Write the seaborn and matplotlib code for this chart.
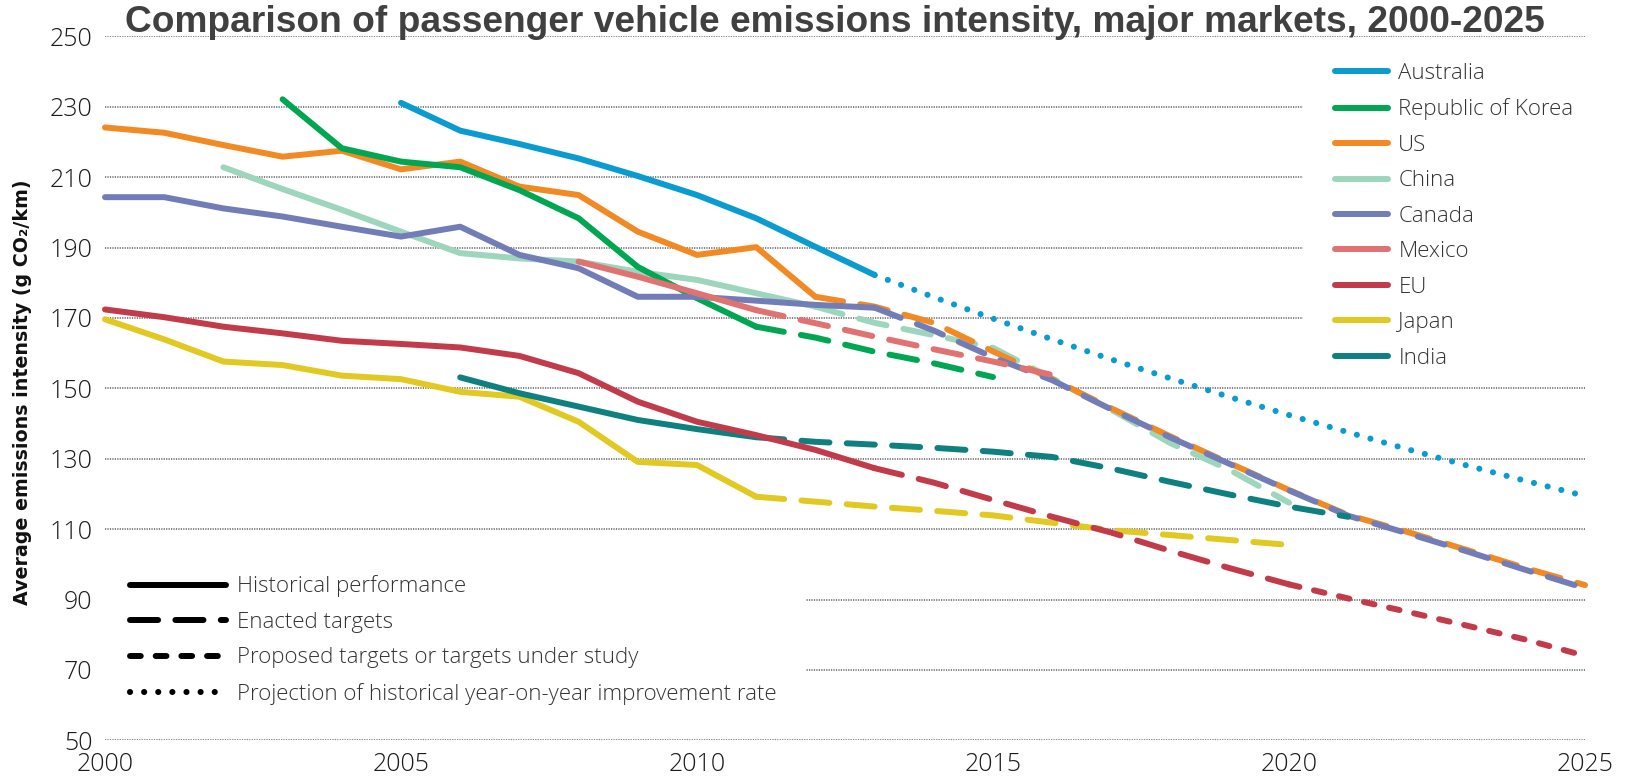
import matplotlib
matplotlib.use("Agg")
import matplotlib.pyplot as plt
from matplotlib.lines import Line2D
from matplotlib.patches import Rectangle
import seaborn as sns
import pandas as pd

# ---------------- data (g CO2/km) ----------------
MARKETS = ["Australia", "Republic of Korea", "US", "China", "Canada",
           "Mexico", "EU", "Japan", "India"]

AUS_HIST_YEARS = list(range(2005, 2014))
AUS_HIST = [231.1, 223.2, 219.4, 215.3, 210.3, 204.9, 198.3, 190.2, 182.2]
AUS_PROJ_YEARS = list(range(2013, 2026))
AUS_PROJ = [182.2, 175.9, 169.8, 163.9, 158.2, 152.8, 147.5, 142.4, 137.5,
            132.7, 128.1, 123.7, 119.4]

KOR_HIST_YEARS = list(range(2003, 2012))
KOR_HIST = [232.1, 218.2, 214.4, 212.8, 206.3, 198.3, 184.5, 175.6, 167.5]
KOR_TGT_YEARS = list(range(2011, 2016))
KOR_TGT = [167.5, 164.4, 160.4, 157.1, 153.2]

US_HIST_YEARS = list(range(2000, 2013))
US_HIST = [224.1, 222.6, 219.1, 215.8, 217.5, 212.2, 214.4, 207.3, 204.9,
           194.5, 187.9, 190.1, 176.0]
US_TGT_YEARS = list(range(2012, 2026))
US_TGT = [176.0, 173.2, 168.6, 160.5, 152.6, 144.3, 136.3, 128.7, 121.1,
          114.0, 109.2, 104.1, 98.9, 94.1]

CHN_HIST_YEARS = list(range(2002, 2013))
CHN_HIST = [212.8, 206.6, 200.7, 194.5, 188.4, 186.9, 186.0, 183.1, 180.8,
            177.0, 173.2]
CHN_TGT_YEARS = list(range(2012, 2021))
CHN_TGT = [173.2, 168.6, 165.1, 161.5, 152.8, 143.9, 134.4, 126.8, 117.5]

CAN_HIST_YEARS = list(range(2000, 2014))
CAN_HIST = [204.3, 204.3, 201.1, 198.8, 195.9, 193.1, 195.9, 187.9, 184.1,
            176.0, 176.0, 174.9, 173.7, 172.9]
CAN_TGT_YEARS = list(range(2013, 2026))
CAN_TGT = [172.9, 166.4, 158.8, 152.3, 144.0, 136.0, 128.5, 121.0, 113.8,
           108.8, 103.7, 98.4, 93.2]

MEX_HIST_YEARS = list(range(2008, 2012))
MEX_HIST = [186.0, 181.7, 177.0, 172.2]
MEX_TGT_YEARS = list(range(2011, 2017))
MEX_TGT = [172.2, 168.5, 164.7, 161.1, 157.6, 153.8]

EU_HIST_YEARS = list(range(2000, 2014))
EU_HIST = [172.4, 170.2, 167.5, 165.6, 163.5, 162.6, 161.6, 159.2, 154.3,
           146.2, 140.5, 136.7, 132.5, 127.3]
EU_TGT_YEARS = list(range(2013, 2021))
EU_TGT = [127.3, 123.2, 118.3, 113.5, 109.0, 103.8, 98.9, 94.3]
EU_PROP_YEARS = list(range(2020, 2026))
EU_PROP = [94.3, 90.3, 86.5, 82.6, 78.6, 74.0]

JPN_HIST_YEARS = list(range(2000, 2012))
JPN_HIST = [169.6, 163.9, 157.6, 156.6, 153.6, 152.6, 149.0, 147.6, 140.5,
            129.1, 128.2, 119.2]
JPN_TGT_YEARS = list(range(2011, 2021))
JPN_TGT = [119.2, 117.8, 116.4, 115.2, 113.9, 111.8, 109.7, 108.3, 106.9, 105.5]

IND_HIST_YEARS = list(range(2006, 2012))
IND_HIST = [153.1, 148.6, 144.8, 141.0, 138.4, 136.1]
IND_TGT_YEARS = list(range(2011, 2022))
IND_TGT = [136.1, 134.8, 134.0, 133.1, 132.0, 130.5, 127.2, 123.4, 119.8,
           116.4, 113.5]

STAGES = ["Historical performance", "Enacted targets",
          "Proposed targets or targets under study",
          "Projection of historical year-on-year improvement rate"]

Y_TICKS = list(range(50, 251, 20))
X_TICKS = list(range(2000, 2026, 5))

COLORS = {
    "Australia": "#0A9BD1",
    "Republic of Korea": "#00A651",
    "US": "#F28A24",
    "China": "#9DD6BD",
    "Canada": "#727DB8",
    "Mexico": "#E07272",
    "EU": "#C23B4A",
    "Japan": "#E2C922",
    "India": "#0F8080",
}

segments = [
    ("China", STAGES[0], CHN_HIST_YEARS, CHN_HIST),
    ("China", STAGES[1], CHN_TGT_YEARS, CHN_TGT),
    ("US", STAGES[0], US_HIST_YEARS, US_HIST),
    ("US", STAGES[1], US_TGT_YEARS, US_TGT),
    ("Republic of Korea", STAGES[0], KOR_HIST_YEARS, KOR_HIST),
    ("Republic of Korea", STAGES[1], KOR_TGT_YEARS, KOR_TGT),
    ("Canada", STAGES[0], CAN_HIST_YEARS, CAN_HIST),
    ("Canada", STAGES[1], CAN_TGT_YEARS, CAN_TGT),
    ("Mexico", STAGES[0], MEX_HIST_YEARS, MEX_HIST),
    ("Mexico", STAGES[1], MEX_TGT_YEARS, MEX_TGT),
    ("Australia", STAGES[0], AUS_HIST_YEARS, AUS_HIST),
    ("Australia", STAGES[3], AUS_PROJ_YEARS, AUS_PROJ),
    ("Japan", STAGES[0], JPN_HIST_YEARS, JPN_HIST),
    ("Japan", STAGES[1], JPN_TGT_YEARS, JPN_TGT),
    ("India", STAGES[0], IND_HIST_YEARS, IND_HIST),
    ("India", STAGES[1], IND_TGT_YEARS, IND_TGT),
    ("EU", STAGES[0], EU_HIST_YEARS, EU_HIST),
    ("EU", STAGES[1], EU_TGT_YEARS, EU_TGT),
    ("EU", STAGES[2], EU_PROP_YEARS, EU_PROP),
]

rows = []
for order, (m, st, ys, vs) in enumerate(segments):
    for y, v in zip(ys, vs):
        rows.append({"market": m, "stage": st, "year": y, "value": v, "seg": order})
df = pd.DataFrame(rows)

# ---------------- styles ----------------
LW = 4.3
STYLE = {
    STAGES[0]: dict(linestyle="-", solid_capstyle="round", lw=LW),
    STAGES[1]: dict(linestyle=(0, (4.7, 2.9)), dash_capstyle="round", lw=LW),
    STAGES[2]: dict(linestyle=(0, (1.8, 2.5)), dash_capstyle="round", lw=LW),
    STAGES[3]: dict(linestyle=(0, (0.01, 2.3)), dash_capstyle="round", lw=4.4),
}

sns.set_theme(style="white")
plt.rcParams["font.family"] = ["DejaVu Sans"]

fig = plt.figure(figsize=(16.3, 7.77), dpi=100)
ax = fig.add_axes([105 / 1630, 1 - 740.3 / 777, 1480 / 1630, (740.3 - 36.3) / 777])

for seg_id, sub in df.groupby("seg", sort=True):
    m = sub["market"].iloc[0]
    st = sub["stage"].iloc[0]
    sns.lineplot(data=sub, x="year", y="value", ax=ax, color=COLORS[m],
                 estimator=None, sort=False, legend=False, zorder=3 + seg_id * 0.01,
                 clip_on=False, **STYLE[st])

ax.set_xlim(2000, 2025)
ax.set_ylim(50, 250)
ax.set_xticks(X_TICKS)
ax.set_yticks(Y_TICKS)
for s in ax.spines.values():
    s.set_visible(False)
ax.grid(False)
for yv in Y_TICKS:
    ax.axhline(yv, color="#5e5e5e", lw=1.1, linestyle=(0, (0.8, 0.8)), zorder=0.5)

tick_font = dict(family=["Open Sans", "DejaVu Sans"], weight="light", size=18)
ax.set_xticklabels([str(t) for t in X_TICKS], color="#1a1a1a", **tick_font)
ax.set_yticklabels([str(t) for t in Y_TICKS], color="#1a1a1a", **tick_font)
ax.tick_params(axis="both", length=0)
ax.tick_params(axis="y", pad=9)
ax.tick_params(axis="x", pad=8.5)

ax.set_xlabel("")
ax.set_ylabel("Average emissions intensity (g CO\u2082/km)", fontsize=13.7,
              fontweight="bold", color="#111111",
              family=["DejaVu Sans"])
ax.yaxis.set_label_coords(-0.0496, 0.495)

# white areas behind the legends hide the grid lines
ax.add_patch(Rectangle((0.8095, 0.52), 0.2, 0.465, transform=ax.transAxes,
                       facecolor="white", edgecolor="none", zorder=1, clip_on=False))
ax.add_patch(Rectangle((0.0, 0.03), 0.4736, 0.22, transform=ax.transAxes,
                       facecolor="white", edgecolor="none", zorder=1, clip_on=False))

leg_font = dict(family=["Open Sans", "DejaVu Sans"], weight="light", size=16)

market_handles = [Line2D([0], [0], color=COLORS[m], lw=LW, solid_capstyle="round")
                  for m in MARKETS]
leg1 = fig.legend(market_handles, MARKETS, loc="upper left",
                  bbox_to_anchor=(1335 / 1630, 1 - 63 / 777), frameon=False,
                  prop=leg_font, handlelength=2.4, handletextpad=0.45,
                  labelspacing=0.65, borderpad=0, borderaxespad=0)
for t in leg1.get_texts():
    t.set_color("#333333")

stage_handles = [Line2D([0], [0], color="black", **STYLE[s]) for s in STAGES]
leg2 = fig.legend(stage_handles, STAGES, loc="upper left",
                  bbox_to_anchor=(130 / 1630, 1 - 575.5 / 777), frameon=False,
                  prop=leg_font, handlelength=4.3, handletextpad=0.5,
                  labelspacing=0.65, borderpad=0, borderaxespad=0)
for t in leg2.get_texts():
    t.set_color("#333333")

fig.text(0.512, 1 - 32 / 777,
         "Comparison of passenger vehicle emissions intensity, major markets, 2000-2025",
         ha="center", va="baseline", fontsize=26.7, fontweight="bold",
         color="#404040", family=["Liberation Sans", "DejaVu Sans"])

fig.savefig("out.png", dpi=100, facecolor="white")
